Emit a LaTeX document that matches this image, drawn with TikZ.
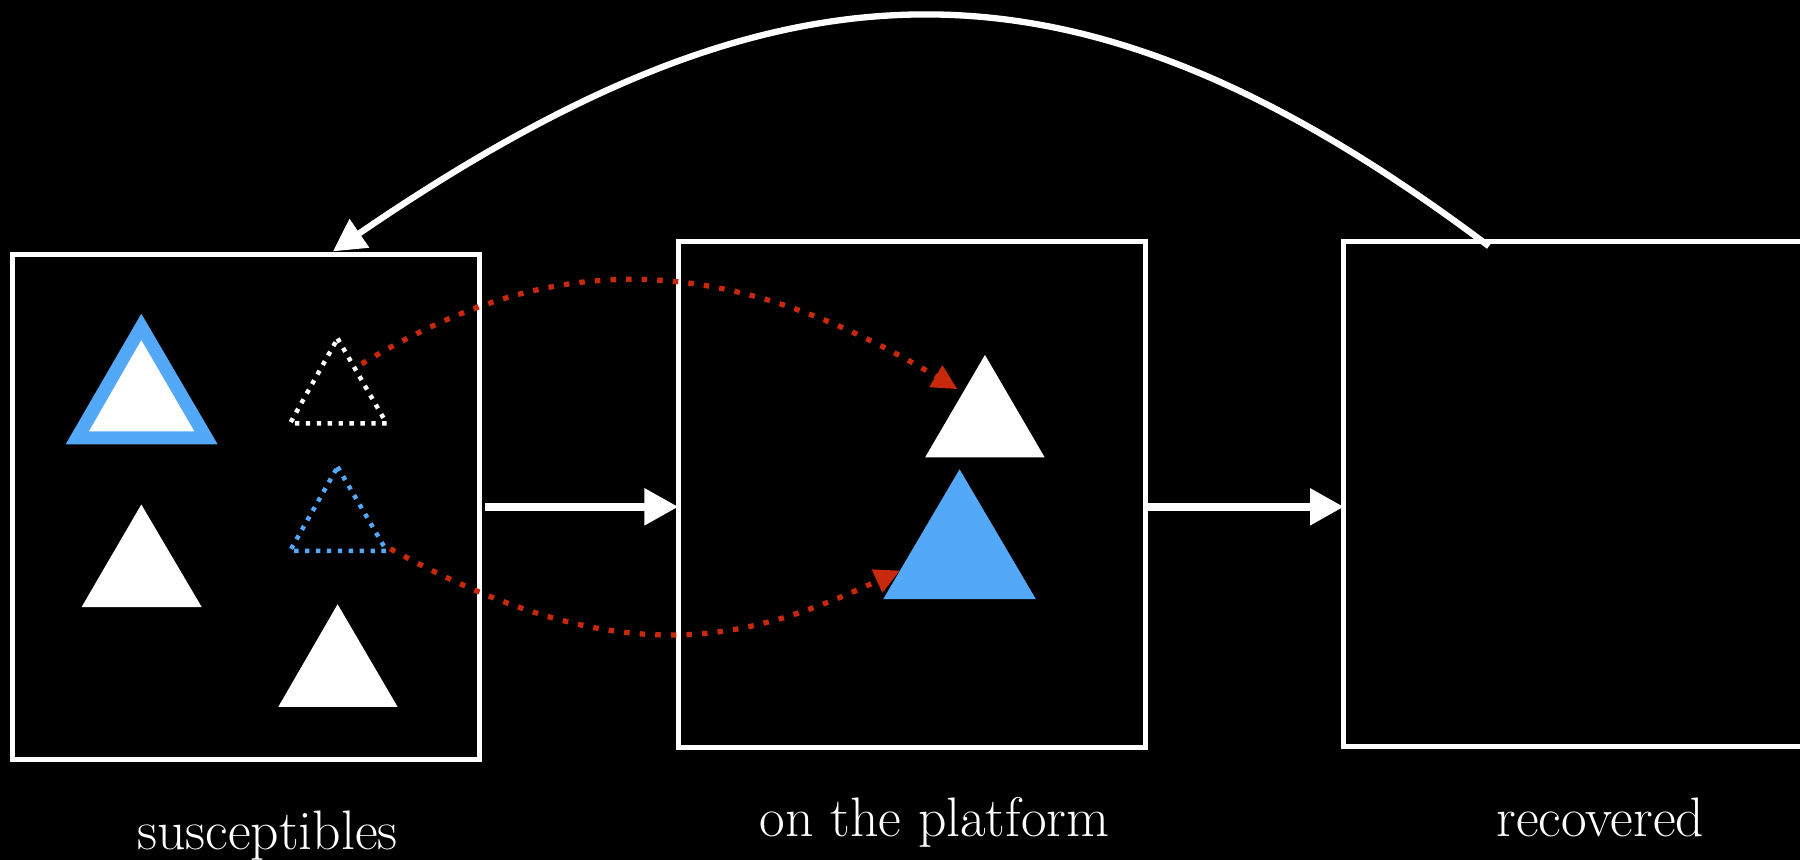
\documentclass[tikz,border=0pt]{standalone}
\usetikzlibrary{arrows.meta}
\definecolor{skyblue}{RGB}{84,168,248}
\definecolor{dotred}{RGB}{200,40,12}
\begin{document}
\begin{tikzpicture}[x=1pt,y=-1pt,
  box/.style={draw=white,line width=4.4pt,minimum width=407pt,minimum height=440.3pt,inner sep=0pt,outer sep=0pt},
  flow/.style={draw=white,line width=7pt,-{Triangle[length=29.5pt,width=30.5pt]}},
  loopback/.style={draw=white,line width=5.5pt,-{Triangle[length=28pt,width=29pt]}},
  jump/.style={draw=dotred,line width=4.6pt,dash pattern=on 4.8pt off 8.8pt,-{Triangle[length=22pt,width=21pt]}},
  lbl/.style={text=white,font=\fontsize{48.5}{55}\selectfont,anchor=base,inner sep=0pt},
  wdot/.style={draw=white,line width=3.9pt,dash pattern=on 3.8pt off 5.7pt},
  bdot/.style={draw=skyblue,line width=3.9pt,dash pattern=on 3.8pt off 5.7pt}]
\useasboundingbox (0,0) rectangle (1568,749);
\fill[black] (0,0) rectangle (1568,749);

% boxes
\node[box] (box1) at (214.4,441.5) {};
\node[box] (box2) at (794.4,430.6) {};
\node[box] (box3) at (1374.2,430.4) {};

% labels
\node[lbl] (lsus) at (233,740.4) {susceptibles};
\node[lbl] (lplat) at (814,728.8) {on the platform};
\node[lbl] (lrec) at (1394,728.8) {recovered};

% triangles in the first box
\fill[skyblue] (123.1,273.3) -- (57.2,387) -- (189.6,387) -- cycle;
\fill[white] (123.1,296.3) -- (77.5,375.8) -- (169.3,375.8) -- cycle;
\draw[wdot] (294.1,294.9) -- (336.8,368.9) -- (252.6,368.9) -- cycle;
\draw[bdot] (294.1,406.7) -- (336.8,479.9) -- (252.6,479.9) -- cycle;
\fill[white] (123.1,439.5) -- (71.1,528.8) -- (175.7,528.8) -- cycle;
\fill[white] (294.1,526.4) -- (242.4,615.8) -- (346.4,615.8) -- cycle;

% triangles in the second box
\fill[white] (858,309.2) -- (805.9,398.4) -- (910,398.4) -- cycle;
\fill[skyblue] (835.9,408.8) -- (769.3,522) -- (902.4,522) -- cycle;

% flow arrows
\draw[flow] ([xshift=4.8pt]box1.east) -- (box2.west |- box1.east);
\draw[flow] ([xshift=2.5pt]box2.east |- box1.east) -- (box3.west |- box1.east);

% loop back from recovered to susceptibles
\coordinate (rstart) at (1297,214.5);
\coordinate (stip) at (290,219);
\draw[loopback] (rstart) .. controls (935,-58) and (680,-48) .. (stip);

% red dotted jumps
\coordinate (wsrc) at (315,317);
\coordinate (wdst) at (834,339);
\coordinate (bsrc) at (340,478);
\coordinate (bdst) at (784,497);
\draw[jump] (wsrc) .. controls (449.5,236.3) and (599.5,198.3) .. (wdst);
\draw[jump] (bsrc) .. controls (543.3,589.8) and (652.7,557.4) .. (bdst);
\end{tikzpicture}
\end{document}
